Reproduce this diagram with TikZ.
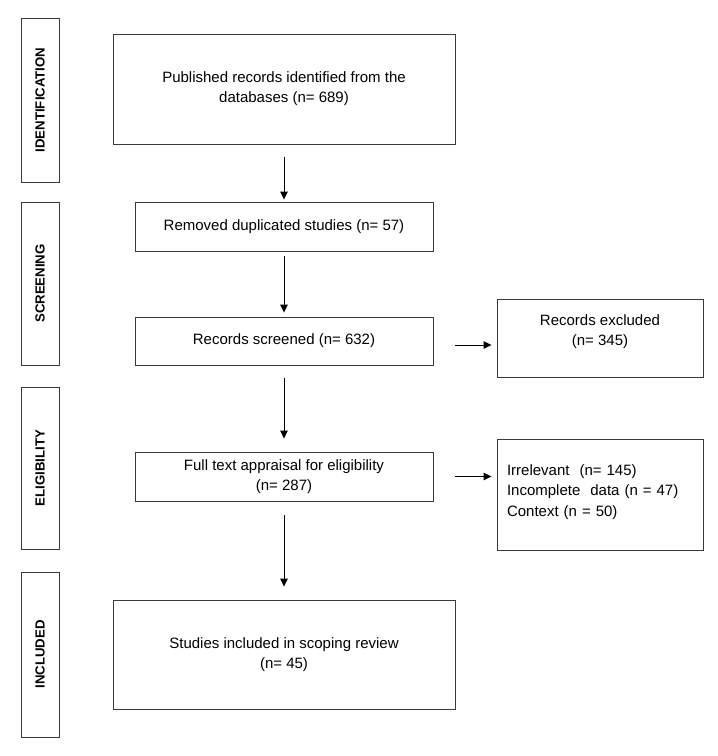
\documentclass[tikz,border=0pt]{standalone}
\usepackage{fontspec}
\setmainfont{Liberation Sans}
\usetikzlibrary{arrows.meta,positioning}
\definecolor{frameGray}{HTML}{3A3A3A}

\begin{document}
\begin{tikzpicture}[
      x=1pt, y=-1pt,
      stagebox/.style={rectangle, draw=frameGray, line width=0.9pt, rotate=90, minimum height=38pt, inner sep=0pt, font=\fontsize{13.2}{15}\selectfont\bfseries},
      flowbox/.style={rectangle, draw=frameGray, line width=0.9pt, align=center, inner sep=0pt, font=\fontsize{15}{20}\selectfont},
      arrow/.style={-{Triangle[length=8pt,width=7.5pt]}, line width=0.9pt, draw=black}
    ]
      \useasboundingbox[fill=white] (0,0) rectangle (718,756);
      \node[stagebox, minimum width=164pt] (sident) at (40,100) {IDENTIFICATION};
      \node[stagebox, minimum width=163pt] (sscreen) at (40,283.5) {SCREENING};
      \node[stagebox, minimum width=162pt] (selig) at (40,468) {ELIGIBILITY};
      \node[stagebox, minimum width=165pt] (sincl) at (40,654.5) {INCLUDED};
      \node[flowbox, minimum width=342pt, minimum height=110pt] (pubrec) at (284,89) {Published records identified from the\\databases (n= 689)};
      \node[flowbox, minimum width=298pt, minimum height=49pt] (dupl) at (284,226.5) {Removed duplicated studies (n= 57)};
      \node[flowbox, minimum width=298pt, minimum height=48pt] (screened) at (284,341) {Records screened (n= 632)};
      \node[flowbox, minimum width=298pt, minimum height=49pt] (fulltext) at (284,476.5) {Full text appraisal for eligibility\\(n= 287)};
      \node[flowbox, minimum width=342pt, minimum height=109pt] (incl) at (284,654.5) {Studies included in scoping review\\(n= 45)};
      \node[flowbox, minimum width=206pt, minimum height=78pt] (excl) at (600,338) {Records excluded\\(n= 345)\\[-4pt]\mbox{}};
      \node[flowbox, minimum width=206pt, minimum height=111pt, align=left, text width=186pt] (reasons) at (600,494.5) {Irrelevant~ (n= 145)\\[0.5pt]Incomplete~ data (n = 47)\\[0.5pt]Context (n = 50)\\[-12pt]\mbox{}};
      \draw[arrow, shorten <=13pt, shorten >=2pt] (pubrec) -- (dupl);
      \draw[arrow, shorten <=5pt, shorten >=4pt] (dupl) -- (screened);
      \draw[arrow, shorten <=13pt, shorten >=13pt] (screened) -- (fulltext);
      \draw[arrow, shorten <=14pt, shorten >=13pt] (fulltext) -- (incl);
      \draw[arrow, shorten <=22pt, shorten >=5pt] ([yshift=-4pt]screened.east) -- ([yshift=-4pt]screened.east -| excl.west);
      \draw[arrow, shorten <=22pt, shorten >=5pt] (fulltext.east) -- (fulltext.east -| reasons.west);
    \end{tikzpicture}
\end{document}
